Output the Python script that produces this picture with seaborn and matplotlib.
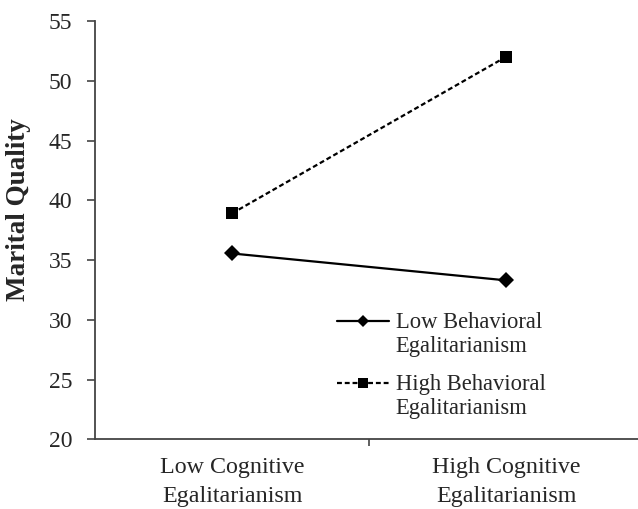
import matplotlib
matplotlib.use("Agg")
import matplotlib.pyplot as plt
from matplotlib.legend_handler import HandlerLine2D
import seaborn as sns
import pandas as pd

# Data
conditions = ["Low Cognitive\nEgalitarianism", "High Cognitive\nEgalitarianism"]
low_behavioral = [35.55, 33.3]
high_behavioral = [38.9, 52.0]
series_names = ["Low Behavioral\nEgalitarianism", "High Behavioral\nEgalitarianism"]
y_ticks = [20, 25, 30, 35, 40, 45, 50, 55]

df = pd.DataFrame({
    "condition": conditions * 2,
    "quality": low_behavioral + high_behavioral,
    "series": [series_names[0]] * 2 + [series_names[1]] * 2,
})

sns.set_theme(style="white")
plt.rcParams["font.family"] = ["Liberation Serif", "DejaVu Serif"]

fig = plt.figure(figsize=(6.38, 5.09), dpi=100)
ax = fig.add_axes([95 / 638, 1 - 439.3 / 509, 548 / 638, (439.3 - 21) / 509])

sns.lineplot(
    data=df, x="condition", y="quality", hue="series", style="series",
    palette={series_names[0]: "black", series_names[1]: "black"},
    markers={series_names[0]: "D", series_names[1]: "s"},
    dashes={series_names[0]: "", series_names[1]: (2.2, 1.3)},
    linewidth=1.6, markersize=8, markeredgewidth=0, ax=ax, legend=False,
)

ax.set_xlim(-0.5, 1.5)
ax.set_ylim(20, 55)
ax.set_yticks(y_ticks)
ax.set_yticklabels([str(t) for t in y_ticks], fontsize=17)
ax.set_xticks([0, 1])
ax.set_xticklabels(conditions, fontsize=17.3, linespacing=1.45)
ax.set_xticks([0.5], minor=True)
ax.tick_params(axis="x", which="major", length=0, pad=13)
ax.tick_params(axis="x", which="minor", length=5, width=1.2, color="#444444", direction="out", bottom=True)
ax.tick_params(axis="y", length=5.5, width=1.2, color="#444444", direction="out", left=True, pad=11)
ax.set_xlabel("")
ax.set_ylabel("Marital Quality", fontsize=19.5, fontweight="bold")
ax.yaxis.set_label_coords(-0.117, 0.55)

for side in ["top", "right"]:
    ax.spines[side].set_visible(False)
for side in ["left", "bottom"]:
    ax.spines[side].set_color("#444444")
    ax.spines[side].set_linewidth(1.3)


class FirstLineHandler(HandlerLine2D):
    """Line handle aligned with the first line of a two-line label."""

    def __init__(self, shift, msize, **kw):
        super().__init__(**kw)
        self.shift = shift
        self.msize = msize

    def create_artists(self, legend, orig_handle, xdescent, ydescent,
                       width, height, fontsize, trans):
        artists = super().create_artists(legend, orig_handle, xdescent,
                                         ydescent - 2 * self.shift * fontsize,
                                         width, height, fontsize, trans)
        for a in artists:
            a.set_markersize(self.msize)
        return artists


handles = ax.get_lines()[:2]
leg_fs = 16.3
leg = fig.legend(
    handles, series_names, loc="upper left",
    bbox_to_anchor=(337 / 638, 1 - 312 / 509), frameon=False,
    fontsize=leg_fs, handlelength=2.3, handletextpad=0.3,
    labelspacing=0.75, borderpad=0, borderaxespad=0,
    handler_map={handles[0]: FirstLineHandler(0.6, 6),
                 handles[1]: FirstLineHandler(0.6, 6.5)},
)

fig.savefig("out.png", dpi=100)
